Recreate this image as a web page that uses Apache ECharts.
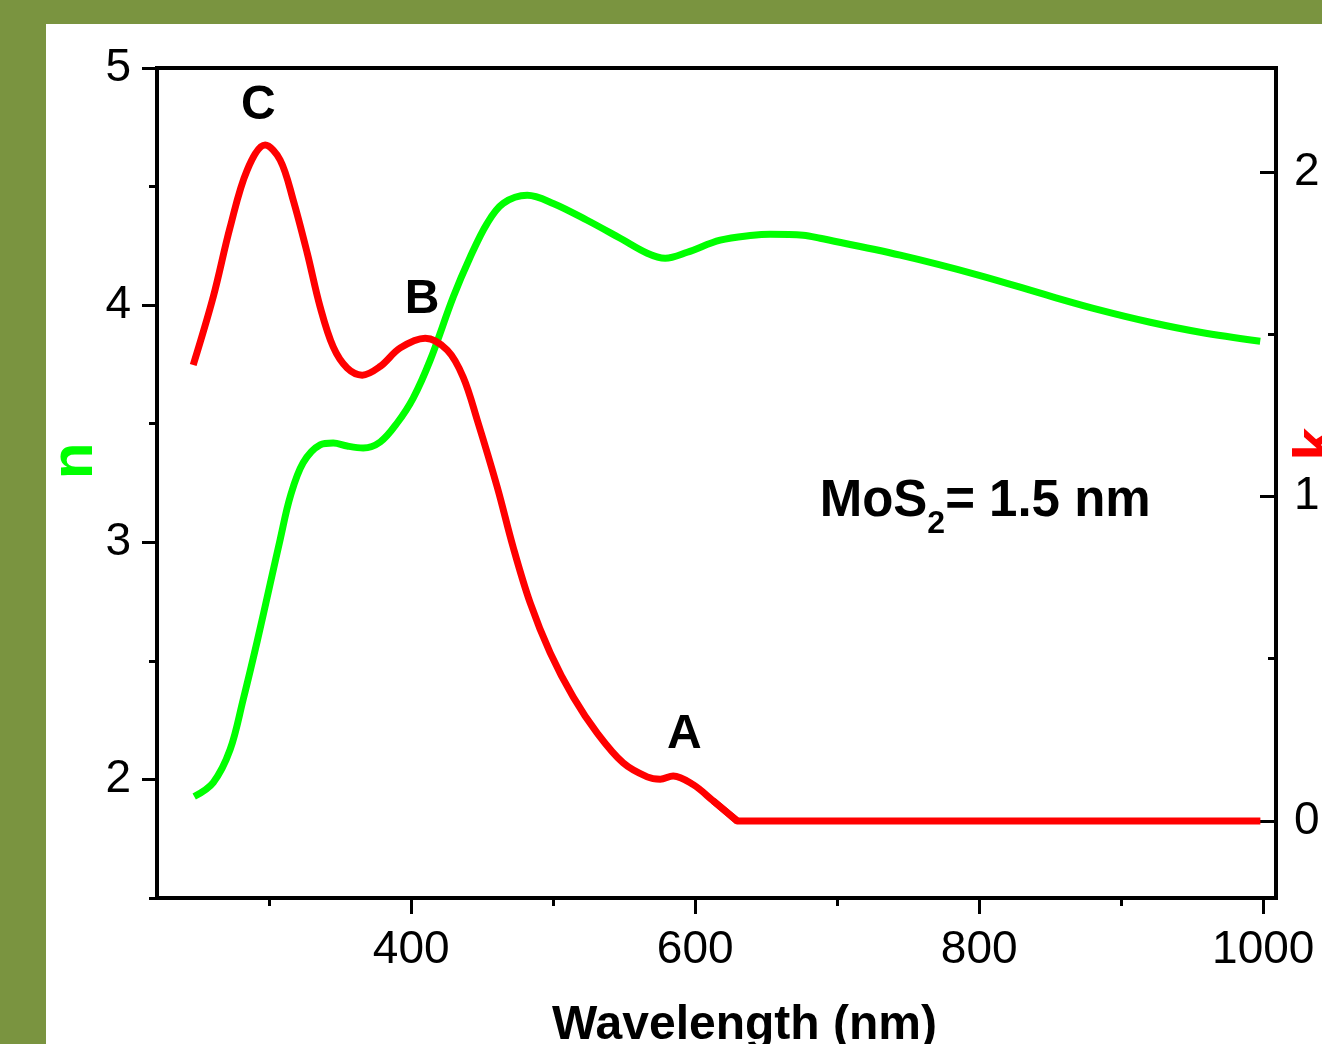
<!DOCTYPE html>
<html><head><meta charset="utf-8">
<script src="https://cdn.jsdelivr.net/npm/echarts@6/dist/echarts.min.js"></script>
<style>
html,body{margin:0;padding:0;background:#7a9440;width:1322px;height:1044px;overflow:hidden;}
#chart{position:absolute;left:46px;top:24px;width:1276px;height:1020px;background:#fff;}
</style></head><body><div id="chart"></div>
<script>
// ---- data ----
const wavelengthN = [247.2,260.6,272.5,281.7,291.5,300.7,307.7,314.8,323.9,335.9,345.1,354.9,366.2,378.2,390.1,401.4,413.4,429.6,441.5,453.5,464.8,481.7,500.0,523.9,547.2,566.2,578.9,594.4,617.6,640.8,652.8,676.1,688.0,744.4,800,850,885.2,920.4,955.6,997.9];
const nValues = [1.928,1.987,2.126,2.337,2.581,2.825,3.011,3.192,3.335,3.411,3.419,3.406,3.398,3.423,3.503,3.608,3.768,4.034,4.202,4.345,4.429,4.463,4.429,4.358,4.282,4.219,4.198,4.223,4.274,4.295,4.299,4.295,4.282,4.211,4.126,4.038,3.979,3.928,3.886,3.848];
const wavelengthK = [246.5,260.6,272.5,284.5,297.2,307.7,316.9,326.8,335.9,345.1,354.9,365.5,378.2,392.3,409.9,425.4,436.6,446.5,460.6,471.8,483.8,497.9,514.1,531.0,549.3,566.2,575.4,584.5,598.6,612.7,629.6,998];
const kValues = [1.405,1.615,1.830,2.006,2.083,2.037,1.914,1.750,1.584,1.461,1.396,1.374,1.401,1.458,1.488,1.451,1.368,1.236,1.029,0.844,0.672,0.518,0.382,0.271,0.179,0.136,0.129,0.139,0.112,0.062,0,0];
const xMajorTicks = [400,600,800,1000];
const xMinorTicks = [300,500,700,900];
const nMajorTicks = [2,3,4,5];
const nMinorTicks = [1.5,2.5,3.5,4.5];
const kMajorTicks = [0,1,2];
const kMinorTicks = [0.5,1.5];
const peakLabels = [
  {text:'C', x:292.3, n:4.842},
  {text:'B', x:407.7, n:4.021},
  {text:'A', x:592.3, n:2.189}
];
const sampleNote = {x:804.2, n:3.171};

const FONT = '"Liberation Sans", Arial, sans-serif';
const X_MIN = 221, X_MAX = 1009;
const N_MIN = 1.5, N_MAX = 5;
const K_MIN = -0.2373, K_MAX = 2.3205;

const chart = echarts.init(document.getElementById('chart'), null, {renderer:'canvas'});

const lineW = 4;
const plain = v => String(v);
function axisLine(show){ return {show:show, onZero:false, lineStyle:{color:'#000', width:lineW}}; }

const nData = wavelengthN.map((w,i)=>[w,nValues[i]]);
const kData = wavelengthK.map((w,i)=>[w,kValues[i]]);
const zeroIdx = kValues.indexOf(0);          // where k reaches zero (absorption edge)
const kCurve = kData.slice(0, zeroIdx + 1);  // smooth part
const kFlat = kData.slice(zeroIdx - 1);      // straight part ending on the zero line

const option = {
  animation:false,
  backgroundColor:'#ffffff',
  grid:{left:111, right:46, top:44, bottom:146, containLabel:false, outerBoundsMode:'none',
        show:true, borderColor:'#000', borderWidth:lineW, backgroundColor:'transparent'},
  xAxis:[
    {type:'value', min:X_MIN, max:X_MAX, position:'bottom', splitLine:{show:false}, axisLine:axisLine(true),
      name:'Wavelength (nm)', nameLocation:'middle', nameGap:104, nameMoveOverlap:false,
      nameTextStyle:{color:'#000', fontSize:48, fontWeight:'bold', fontFamily:FONT, padding:[0,0,0,56]},
      axisTick:{show:true, inside:false, length:16, customValues:xMajorTicks, lineStyle:{color:'#000', width:3}},
      axisLabel:{show:true, customValues:xMajorTicks, formatter:plain, color:'#000', fontSize:46, fontFamily:FONT, margin:29}
    },
    {type:'value', min:X_MIN, max:X_MAX, position:'bottom', splitLine:{show:false}, axisLine:axisLine(false),
      axisTick:{show:true, inside:false, length:8, customValues:xMinorTicks, lineStyle:{color:'#000', width:3}},
      axisLabel:{show:false}
    }
  ],
  yAxis:[
    {type:'value', min:N_MIN, max:N_MAX, position:'left', splitLine:{show:false}, axisLine:axisLine(true),
      name:'n', nameLocation:'middle', nameGap:52, nameMoveOverlap:false,
      nameTextStyle:{color:'#00ff00', fontSize:60, fontWeight:'bold', fontFamily:FONT, padding:[0,0,0,44]},
      axisTick:{show:true, inside:false, length:15, customValues:nMajorTicks, lineStyle:{color:'#000', width:3}},
      axisLabel:{show:true, customValues:nMajorTicks, formatter:plain, color:'#000', fontSize:46, fontFamily:FONT, margin:26}
    },
    {type:'value', min:K_MIN, max:K_MAX, position:'right', splitLine:{show:false}, axisLine:axisLine(true),
      name:'k', nameLocation:'middle', nameGap:12, nameMoveOverlap:false,
      nameTextStyle:{color:'#ff0000', fontSize:60, fontWeight:'bold', fontFamily:FONT, padding:[0,0,0,78]},
      axisTick:{show:true, inside:true, length:16, customValues:kMajorTicks, lineStyle:{color:'#000', width:3}},
      axisLabel:{show:true, customValues:kMajorTicks, formatter:plain, color:'#000', fontSize:46, fontFamily:FONT, margin:18}
    },
    {type:'value', min:N_MIN, max:N_MAX, position:'left', splitLine:{show:false}, axisLine:axisLine(false),
      axisTick:{show:true, inside:false, length:8, customValues:nMinorTicks, lineStyle:{color:'#000', width:3}},
      axisLabel:{show:false}
    },
    {type:'value', min:K_MIN, max:K_MAX, position:'right', splitLine:{show:false}, axisLine:axisLine(false),
      axisTick:{show:true, inside:true, length:8, customValues:kMinorTicks, lineStyle:{color:'#000', width:3}},
      axisLabel:{show:false}
    }
  ],
  series:[
    {name:'n', type:'line', xAxisIndex:0, yAxisIndex:0, smooth:0.35, showSymbol:false,
     lineStyle:{color:'#00ff00', width:7, cap:'butt', join:'round'}, data:nData, z:2},
    {name:'k', type:'line', xAxisIndex:0, yAxisIndex:1, smooth:0.35, showSymbol:false,
     lineStyle:{color:'#ff0000', width:7, cap:'butt', join:'round'}, data:kCurve, z:3},
    {name:'k', type:'line', xAxisIndex:0, yAxisIndex:1, smooth:false, showSymbol:false,
     lineStyle:{color:'#ff0000', width:7, cap:'butt', join:'round'}, data:kFlat, z:3}
  ]
};
chart.setOption(option);

const graphics = peakLabels.map(p=>{
  const pt = chart.convertToPixel({xAxisIndex:0, yAxisIndex:0}, [p.x, p.n]);
  return {type:'text', x:pt[0], y:pt[1], z:10,
    style:{text:p.text, fill:'#000', font:'bold 48px ' + FONT, align:'center', verticalAlign:'middle'}};
});
const np = chart.convertToPixel({xAxisIndex:0, yAxisIndex:0}, [sampleNote.x, sampleNote.n]);
graphics.push({type:'text', x:np[0], y:np[1], z:10,
  style:{text:'{m|MoS}{s|2}{m|= 1.5 nm}', align:'center', verticalAlign:'middle', fill:'#000',
    rich:{
      m:{fontSize:51, fontWeight:'bold', fontFamily:FONT, fill:'#000', lineHeight:76, verticalAlign:'middle'},
      s:{fontSize:32, fontWeight:'bold', fontFamily:FONT, fill:'#000', lineHeight:76, verticalAlign:'bottom'}
    }}});
chart.setOption({graphic:graphics});
</script></body></html>
